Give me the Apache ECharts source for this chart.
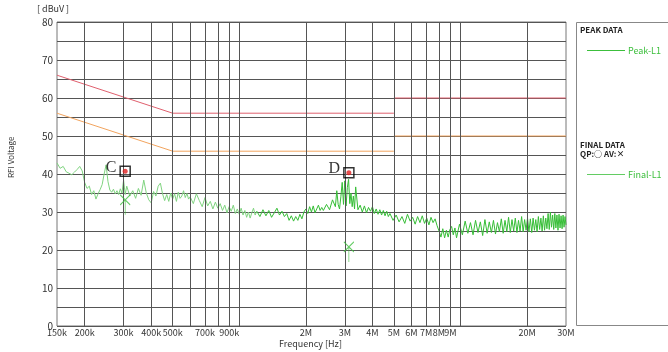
<!DOCTYPE html>
<html><head><meta charset="utf-8">
<script src="https://cdn.jsdelivr.net/npm/echarts@6/dist/echarts.min.js"></script>
<style>html,body{margin:0;padding:0;background:#fff}#c{width:668px;height:352px}</style>
</head><body><div id="c"></div>
<script>
// Frequencies in MHz, levels in dBuV
const freqGridMHz = [0.2,0.3,0.4,0.5,0.6,0.7,0.8,0.9,1,2,3,4,5,6,7,8,9,10,20];
const freqLabelMHz = [0.15,0.2,0.3,0.4,0.5,0.7,0.9,2,3,4,5,6,7,8,9,20,30];

const qpLimitLow = [[0.15,66],[0.5,56],[5,56]];
const qpLimitHigh = [[5,60],[30,60]];
const avLimitLow = [[0.15,56],[0.5,46],[5,46]];
const avLimitHigh = [[5,50],[30,50]];

const traceA = [[0.150,42.9],[0.155,41.5],[0.160,42.0],[0.165,40.6],[0.170,40.2],[0.175,39.8],[0.180,40.5],[0.185,41.2],[0.190,42.0],[0.195,40.8],
[0.200,37.8],[0.205,36.2],[0.210,36.8],[0.215,34.6],[0.220,35.6],[0.225,33.4],[0.230,34.8],[0.235,35.9],[0.240,37.2],[0.245,40.0],
[0.250,42.4],[0.255,38.0],[0.260,35.8],[0.265,35.2],[0.270,36.0],[0.275,34.8],[0.280,35.6],[0.285,34.6],[0.290,36.1],[0.295,35.0]];
const traceB = [[0.300,38.4],[0.305,34.6],[0.310,36.8],[0.320,34.2],[0.330,35.6],[0.340,33.6],[0.350,36.2],[0.360,34.4],[0.370,38.4],[0.380,35.0],
[0.390,33.2],[0.400,32.4],[0.410,35.4],[0.420,34.2],[0.430,36.8],[0.440,37.6],[0.450,34.8],[0.460,33.0],[0.470,34.6],[0.480,32.8],
[0.490,35.0],[0.500,33.4],[0.510,34.8],[0.520,32.8],[0.530,35.2],[0.540,33.6],[0.550,34.2],[0.560,35.6],[0.570,33.8],[0.580,34.9],[0.590,33.4]];
const traceC = [[0.60,34.0],[0.62,32.2],[0.64,34.8],[0.66,33.0],[0.68,31.4],[0.70,33.8],[0.72,31.6],[0.74,32.8],[0.76,30.8],[0.78,32.6],
[0.80,31.0],[0.82,32.2],[0.84,30.4],[0.86,31.8],[0.88,29.8],[0.90,31.4],[0.92,30.2],[0.94,31.8],[0.96,29.6],[0.98,30.8],
[1.00,29.4],[1.02,31.0],[1.04,29.2],[1.06,30.4],[1.08,28.6],[1.10,30.0],[1.12,28.4],[1.14,29.8],[1.16,31.0],[1.18,29.2]];
const traceD = [[1.20,30.2],[1.24,28.8],[1.28,30.6],[1.32,29.0],[1.36,30.4],[1.40,28.6],[1.44,29.8],[1.48,31.0],[1.52,29.2],[1.56,30.2],
[1.60,28.8],[1.64,29.6],[1.68,27.8],[1.72,29.0],[1.76,27.6],[1.80,28.8],[1.84,27.8],[1.88,29.4],[1.92,28.2],[1.96,30.0],
[2.00,30.8],[2.04,29.6],[2.08,31.4],[2.12,30.0],[2.16,31.6],[2.20,29.8],[2.24,30.8],[2.28,31.8],[2.32,30.4],[2.36,31.2]];
const traceE = [[2.40,30.4],[2.48,32.0],[2.56,30.6],[2.64,33.2],[2.72,31.4],[2.76,35.6],[2.80,32.0],[2.84,30.8],[2.88,34.0],[2.92,37.8],
[2.96,32.0],[3.00,38.2],[3.04,31.6],[3.08,36.4],[3.12,38.6],[3.16,32.2],[3.20,35.0],[3.24,31.4],[3.28,34.2],[3.32,30.8],
[3.36,36.6],[3.44,30.6],[3.52,31.8],[3.60,30.0],[3.68,31.6],[3.76,29.8],[3.84,31.2],[3.92,30.2],[4.00,31.4],[4.08,29.6],
[4.16,30.8],[4.24,29.4],[4.32,30.6],[4.40,29.2],[4.48,30.4],[4.56,29.0],[4.64,30.2],[4.72,28.8]];
const traceF = [[4.80,29.6],[4.96,27.8],[5.12,29.2],[5.28,27.4],[5.44,28.8],[5.60,27.0],[5.76,29.4],[5.92,27.6],[6.08,28.6],[6.24,26.8],
[6.40,28.8],[6.56,27.2],[6.72,29.0],[6.88,27.0],[7.04,28.4],[7.20,26.6],[7.36,28.6],[7.52,27.2],[7.68,28.2],[7.84,26.4],
[8.00,25.0],[8.16,23.4],[8.32,25.6],[8.48,23.2],[8.64,25.2],[8.80,23.4],[8.96,25.4],[9.12,26.2],[9.28,24.0],[9.44,25.8]];
const traceG = [[9.6,23.2],[9.9,26.8],[10.2,24.0],[10.5,27.6],[10.8,24.4],[11.1,27.2],[11.4,24.0],[11.7,27.8],[12.0,24.6],[12.3,27.4],
[12.6,23.8],[12.9,28.0],[13.2,24.4],[13.5,27.4],[13.8,24.6],[14.1,27.8],[14.4,24.2],[14.7,27.2],[15.0,24.8],[15.3,28.2],
[15.6,24.4],[15.9,27.8],[16.2,24.8],[16.5,28.6],[16.8,24.6],[17.1,28.0],[17.4,25.0],[17.7,28.4],[18.0,24.6],[18.3,27.8],
[18.6,25.0],[18.9,28.8],[19.2,24.8],[19.5,28.0],[19.8,25.2],[20.1,28.4],[20.4,24.8],[20.7,28.2],[21.0,24.6],[21.3,28.4],
[21.6,25.2],[21.9,28.0],[22.2,24.8],[22.5,28.8],[22.8,25.4],[23.1,28.4],[23.4,25.0],[23.7,29.0],[24.0,25.2],[24.3,28.4],
[24.6,25.6],[24.9,29.6],[25.2,25.4],[25.5,30.0],[25.8,26.0],[26.1,29.2],[26.4,25.4],[26.7,29.6],[27.0,25.8],[27.3,29.2],
[27.6,25.2],[27.9,29.4],[28.2,25.8],[28.5,29.0],[28.8,25.6],[29.1,29.2],[29.4,26.0],[29.7,28.8],[30.0,26.6]];

const peakMarkers = [['C',0.305,40.7],['D',3.13,40.3]];
const finalAv = [[0.305,33.2],[3.13,20.8]];

const traceLow = [].concat(traceA,traceB,traceC,[traceD[0]]);
const traceHigh = [].concat(traceD,traceE,traceF,traceG);
const GREEN = '#3cbf3c';
const FONT = '"Noto Sans CJK JP", "DejaVu Sans", sans-serif';
const fmtFreq = f => f < 1 ? Math.round(f*1000)+'k' : (Math.round(f*10)/10)+'M';

const chart = echarts.init(document.getElementById('c'), null, {renderer:'canvas'});
chart.setOption({
  animation:false,
  backgroundColor:'#fff',
  grid:{left:57,right:102,top:22,bottom:26,show:true,borderColor:'#777',borderWidth:1,backgroundColor:'transparent'},
  xAxis:{type:'log',logBase:10,min:0.15,max:30,axisLabel:{show:false},axisTick:{show:false},axisLine:{show:false},splitLine:{show:false},minorSplitLine:{show:false}},
  yAxis:{type:'value',min:0,max:80,interval:5,
    axisLine:{show:false},axisTick:{show:false},
    axisLabel:{color:'#333',fontSize:10,fontFamily:FONT,margin:4,formatter:v=> v%10===0? String(v):''},
    splitLine:{lineStyle:{color:'#555',width:1}}},
  legend:[
    {data:[{name:'Peak-L1',icon:'rect'}],left:582,top:41,itemWidth:38,itemHeight:1,itemGap:4,selectedMode:false,
     itemStyle:{color:GREEN,borderWidth:0},textStyle:{color:GREEN,fontSize:9,fontFamily:FONT,padding:[0,0,0,-2]}},
    {data:[{name:'Final-L1',icon:'rect'}],left:582,top:165,itemWidth:38,itemHeight:1,itemGap:4,selectedMode:false,
     itemStyle:{color:GREEN,borderWidth:0},textStyle:{color:GREEN,fontSize:9,fontFamily:FONT,padding:[0,0,0,-2]}}
  ],
  graphic:[
    {type:'rect',shape:{x:576.5,y:22.5,width:100,height:303},style:{fill:'none',stroke:'#888',lineWidth:1},silent:true},
    {type:'text',left:580,top:26,style:{text:'PEAK DATA',font:'bold 8px '+FONT,fill:'#222'}},
    {type:'text',left:580,top:141,style:{text:'FINAL DATA',font:'bold 8px '+FONT,fill:'#222'}},
    {type:'text',left:580,top:150,style:{text:'QP:○ AV:×',font:'bold 8px '+FONT,fill:'#222'}},
    {type:'text',left:37,top:4,style:{text:'[ dBuV ]',font:'9px '+FONT,fill:'#333'}},
    {type:'text',x:7,y:178,rotation:Math.PI/2,style:{text:'RFI Voltage',font:'8px '+FONT,fill:'#333'}},
    {type:'text',left:279,top:339,style:{text:'Frequency [Hz]',font:'9px '+FONT,fill:'#333'}}
  ],
  series:[
    {type:'line',name:'grid',data:[],silent:true,z:1,
     markLine:{silent:true,symbol:['none','none'],label:{show:false},lineStyle:{color:'#555',width:1,type:'solid'},
       data:freqGridMHz.map(f=>({xAxis:f}))}},
    {type:'line',name:'ticks',data:[],silent:true,z:1,
     markLine:{silent:true,symbol:['none','none'],lineStyle:{color:'rgba(0,0,0,0)',width:1,type:'solid'},
       label:{show:true,position:'start',distance:2,color:'#333',fontSize:9,fontFamily:FONT,formatter:p=>fmtFreq(p.value)},
       data:freqLabelMHz.map(f=>({xAxis:f}))}},
    {type:'line',name:'QP limit',data:qpLimitLow,showSymbol:false,z:3,lineStyle:{color:'#e0606e',width:1}},
    {type:'line',name:'QP limit 2',data:qpLimitHigh,showSymbol:false,z:3,lineStyle:{color:'#e0606e',width:1}},
    {type:'line',name:'AV limit',data:avLimitLow,showSymbol:false,z:3,lineStyle:{color:'#f2a45e',width:1}},
    {type:'line',name:'AV limit 2',data:avLimitHigh,showSymbol:false,z:3,lineStyle:{color:'#f2a45e',width:1}},
    {type:'line',name:'Peak-L1',data:traceLow,showSymbol:false,z:4,color:'#80d480',lineStyle:{width:1}},
    {type:'line',name:'Peak-L1',data:traceHigh,showSymbol:false,z:4,color:'#36be36',lineStyle:{width:1}},
    {type:'scatter',name:'Final-L1',data:finalAv,z:5,symbol:'path://M0,0L10,10M10,0L0,10M5,5L5,20',symbolSize:[10,20],symbolOffset:[0,5],
     itemStyle:{color:'none',borderColor:GREEN,borderWidth:1}},
    {type:'scatter',name:'markers',data:peakMarkers.map(m=>({name:m[0],value:[m[1],m[2]]})),z:6,symbol:'rect',symbolSize:10,
     itemStyle:{color:'rgba(0,0,0,0)',borderColor:'#000',borderWidth:1.5},
     label:{show:true,position:'left',distance:3,offset:[0,-4],formatter:'{b}',color:'#000',fontSize:16,fontFamily:'"Liberation Serif", serif'}},
    {type:'scatter',name:'marker dots',data:peakMarkers.map(m=>[m[1],m[2]]),z:7,symbol:'circle',symbolSize:5,itemStyle:{color:'#e02020'}}
  ]
});
</script></body></html>
